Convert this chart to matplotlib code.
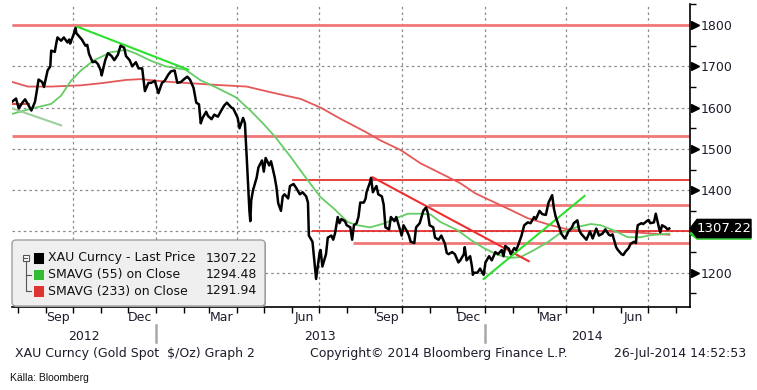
import matplotlib
matplotlib.use("Agg")
import matplotlib.pyplot as plt
import matplotlib.dates as mdates
import pandas as pd
from matplotlib.patches import FancyBboxPatch, Polygon, Rectangle
from matplotlib.transforms import blended_transform_factory

plt.rcParams['font.family'] = ['DejaVu Sans']

# --- XAU spot ---
price_dates = [
    '2012-07-26', '2012-07-30', '2012-08-02', '2012-08-06', '2012-08-09', '2012-08-13', '2012-08-16',
    '2012-08-20', '2012-08-22', '2012-08-24', '2012-08-28', '2012-08-30', '2012-09-03', '2012-09-06',
    '2012-09-07', '2012-09-11', '2012-09-13', '2012-09-14', '2012-09-18', '2012-09-21', '2012-09-25',
    '2012-09-27', '2012-09-28', '2012-10-02', '2012-10-04', '2012-10-05', '2012-10-09', '2012-10-11',
    '2012-10-15', '2012-10-17', '2012-10-19', '2012-10-23', '2012-10-26', '2012-10-29', '2012-11-01',
    '2012-11-02', '2012-11-06', '2012-11-09', '2012-11-13', '2012-11-16', '2012-11-20', '2012-11-23',
    '2012-11-27', '2012-11-29', '2012-12-03', '2012-12-06', '2012-12-10', '2012-12-13', '2012-12-17',
    '2012-12-20', '2012-12-24', '2012-12-27', '2012-12-31', '2013-01-04', '2013-01-08', '2013-01-11',
    '2013-01-15', '2013-01-18', '2013-01-22', '2013-01-25', '2013-01-29', '2013-02-01', '2013-02-05',
    '2013-02-08', '2013-02-12', '2013-02-15', '2013-02-18', '2013-02-20', '2013-02-22', '2013-02-26',
    '2013-02-28', '2013-03-04', '2013-03-07', '2013-03-11', '2013-03-14', '2013-03-18', '2013-03-21',
    '2013-03-26', '2013-03-28', '2013-04-02', '2013-04-04', '2013-04-08', '2013-04-10', '2013-04-12',
    '2013-04-15', '2013-04-16', '2013-04-17', '2013-04-19', '2013-04-23', '2013-04-25', '2013-04-29',
    '2013-05-01', '2013-05-03', '2013-05-07', '2013-05-09', '2013-05-13', '2013-05-15', '2013-05-17',
    '2013-05-20', '2013-05-22', '2013-05-24', '2013-05-28', '2013-05-30', '2013-06-03', '2013-06-06',
    '2013-06-10', '2013-06-13', '2013-06-17', '2013-06-19', '2013-06-20', '2013-06-24', '2013-06-26',
    '2013-06-27', '2013-06-28', '2013-07-02', '2013-07-03', '2013-07-05', '2013-07-09', '2013-07-11',
    '2013-07-15', '2013-07-17', '2013-07-19', '2013-07-22', '2013-07-24', '2013-07-26', '2013-07-30',
    '2013-08-01', '2013-08-05', '2013-08-07', '2013-08-09', '2013-08-12', '2013-08-14', '2013-08-16',
    '2013-08-20', '2013-08-22', '2013-08-23', '2013-08-27', '2013-08-28', '2013-08-30', '2013-09-03',
    '2013-09-05', '2013-09-09', '2013-09-11', '2013-09-13', '2013-09-17', '2013-09-19', '2013-09-23',
    '2013-09-25', '2013-09-27', '2013-10-01', '2013-10-03', '2013-10-07', '2013-10-09', '2013-10-11',
    '2013-10-15', '2013-10-17', '2013-10-21', '2013-10-23', '2013-10-25', '2013-10-28', '2013-10-30',
    '2013-11-01', '2013-11-05', '2013-11-07', '2013-11-11', '2013-11-14', '2013-11-18', '2013-11-20',
    '2013-11-22', '2013-11-26', '2013-11-29', '2013-12-03', '2013-12-05', '2013-12-09', '2013-12-10',
    '2013-12-12', '2013-12-16', '2013-12-18', '2013-12-19', '2013-12-20', '2013-12-24', '2013-12-27',
    '2013-12-31', '2014-01-02', '2014-01-06', '2014-01-09', '2014-01-13', '2014-01-16', '2014-01-20',
    '2014-01-22', '2014-01-24', '2014-01-28', '2014-01-30', '2014-02-03', '2014-02-05', '2014-02-07',
    '2014-02-11', '2014-02-14', '2014-02-18', '2014-02-21', '2014-02-25', '2014-02-27', '2014-03-03',
    '2014-03-06', '2014-03-10', '2014-03-13', '2014-03-17', '2014-03-19', '2014-03-21', '2014-03-25',
    '2014-03-27', '2014-03-31', '2014-04-02', '2014-04-04', '2014-04-08', '2014-04-10', '2014-04-14',
    '2014-04-16', '2014-04-18', '2014-04-22', '2014-04-24', '2014-04-28', '2014-05-01', '2014-05-05',
    '2014-05-08', '2014-05-12', '2014-05-15', '2014-05-19', '2014-05-21', '2014-05-23', '2014-05-27',
    '2014-05-29', '2014-06-02', '2014-06-04', '2014-06-06', '2014-06-10', '2014-06-12', '2014-06-16',
    '2014-06-18', '2014-06-19', '2014-06-20', '2014-06-24', '2014-06-26', '2014-06-30', '2014-07-02',
    '2014-07-04', '2014-07-08', '2014-07-10', '2014-07-14', '2014-07-15', '2014-07-17', '2014-07-21',
    '2014-07-23', '2014-07-25',
]
price_vals = [
    1615, 1622, 1598, 1612, 1620, 1605, 1593,
    1614, 1640, 1668, 1662, 1650, 1690, 1700,
    1738, 1735, 1760, 1770, 1762, 1770, 1758,
    1765, 1755, 1778, 1793, 1780, 1770, 1765,
    1750, 1752, 1730, 1710, 1712, 1705, 1690,
    1678, 1715, 1732, 1725, 1715, 1728, 1750,
    1745, 1725, 1715, 1700, 1710, 1695, 1695,
    1640, 1660, 1660, 1665, 1635, 1660, 1665,
    1680, 1688, 1690, 1660, 1662, 1668, 1675,
    1668, 1648, 1612, 1608, 1562, 1575, 1590,
    1580, 1572, 1583, 1578, 1590, 1605, 1612,
    1600, 1598, 1575, 1550, 1575, 1562, 1480,
    1350, 1325, 1375, 1400, 1430, 1455, 1472,
    1445, 1478, 1460, 1470, 1432, 1407, 1368,
    1350, 1385, 1390, 1380, 1410, 1415, 1405,
    1390, 1395, 1385, 1370, 1290, 1275, 1230,
    1205, 1185, 1250, 1255, 1215, 1245, 1285,
    1290, 1280, 1295, 1335, 1320, 1330, 1325,
    1315, 1310, 1280, 1315, 1320, 1335, 1370,
    1370, 1380, 1395, 1420, 1430, 1395, 1410,
    1390, 1385, 1365, 1310, 1305, 1335, 1325,
    1335, 1320, 1290, 1315, 1300, 1290, 1275,
    1272, 1310, 1320, 1335, 1350, 1358, 1345,
    1315, 1310, 1285, 1280, 1290, 1270, 1248,
    1245, 1250, 1245, 1225, 1230, 1245, 1262,
    1230, 1240, 1215, 1195, 1200, 1200, 1210,
    1195, 1225, 1240, 1230, 1250, 1245, 1255,
    1240, 1265, 1258, 1245, 1260, 1255, 1265,
    1290, 1315, 1322, 1320, 1335, 1330, 1350,
    1342, 1340, 1370, 1388, 1355, 1335, 1310,
    1295, 1283, 1290, 1300, 1310, 1320, 1327,
    1303, 1295, 1285, 1280, 1300, 1283, 1307,
    1290, 1295, 1305, 1292, 1290, 1293, 1262,
    1255, 1245, 1243, 1250, 1260, 1270, 1275,
    1272, 1300, 1315, 1320, 1318, 1325, 1328,
    1320, 1322, 1343, 1305, 1298, 1315, 1310,
    1305, 1307.22,
]

sma55_dates = [
    '2012-07-26', '2012-08-15', '2012-09-07', '2012-09-18', '2012-09-29', '2012-10-10', '2012-10-24',
    '2012-11-12', '2012-11-29', '2012-12-10', '2012-12-26', '2013-01-12', '2013-02-03', '2013-02-20',
    '2013-03-09', '2013-03-31', '2013-04-16', '2013-04-30', '2013-05-14', '2013-05-31', '2013-06-16',
    '2013-07-03', '2013-07-18', '2013-07-25', '2013-08-02', '2013-08-13', '2013-08-27', '2013-09-11',
    '2013-09-27', '2013-10-08', '2013-10-22', '2013-11-02', '2013-11-13', '2013-12-02', '2013-12-17',
    '2013-12-31', '2014-01-16', '2014-01-30', '2014-02-10', '2014-02-25', '2014-03-12', '2014-03-26',
    '2014-04-14', '2014-04-29', '2014-05-10', '2014-05-24', '2014-06-09', '2014-06-23', '2014-07-04',
    '2014-07-25',
]
sma55_vals = [
    1585, 1597, 1609, 1629, 1665, 1690, 1714,
    1734, 1740, 1731, 1714, 1700, 1692, 1666,
    1649, 1625, 1593, 1562, 1528, 1480, 1432,
    1383, 1355, 1340, 1323, 1315, 1310, 1319,
    1334, 1343, 1343, 1341, 1323, 1303, 1279,
    1260, 1243, 1236, 1238, 1255, 1274, 1296,
    1311, 1318, 1315, 1303, 1286, 1286, 1291,
    1294.48,
]

sma233_dates = [
    '2012-07-26', '2012-08-12', '2012-09-07', '2012-10-10', '2012-11-01', '2012-11-29', '2012-12-15',
    '2013-01-12', '2013-02-09', '2013-03-09', '2013-04-12', '2013-05-09', '2013-06-11', '2013-07-03',
    '2013-07-25', '2013-08-22', '2013-09-07', '2013-09-30', '2013-10-22', '2013-11-13', '2013-12-05',
    '2013-12-22', '2014-01-30', '2014-02-18', '2014-03-16', '2014-04-03', '2014-04-25', '2014-05-29',
    '2014-06-15', '2014-07-25',
]
sma233_vals = [
    1662, 1651, 1651, 1654, 1659, 1667, 1669,
    1663, 1659, 1655, 1651, 1637, 1621, 1600,
    1573, 1541, 1521, 1497, 1465, 1441, 1417,
    1392, 1352, 1332, 1315, 1305, 1301, 1299,
    1298, 1291.94,
]

# horizontal support / resistance levels drawn on the chart
level_vals = [1800, 1532, 1424, 1364, 1302, 1271, 1609]
level_start = ['2012-07-26', '2012-07-26', '2013-06-01', '2013-10-30', '2013-06-23', '2013-08-08', '2012-07-26']
level_end = ['2014-08-17', '2014-08-17', '2014-08-17', '2014-08-17', '2014-08-17', '2014-08-17', '2012-08-15']
level_dark = [False, False, True, False, True, False, True]

# trend lines
trend_d0 = ['2012-10-06', '2012-07-26', '2013-08-30', '2013-12-31']
trend_v0 = [1796, 1598, 1431, 1185]
trend_d1 = ['2013-02-06', '2012-09-18', '2014-02-19', '2014-04-22']
trend_v1 = [1692, 1557, 1228, 1386]
trend_col = ['#2ee02e', '#9ccf9c', '#ee3030', '#2ee02e']

legend_names = ['XAU Curncy - Last Price', 'SMAVG (55) on Close', 'SMAVG (233) on Close']
legend_vals = ['1307.22', '1294.48', '1291.94']
legend_cols = ['#000000', '#33bb33', '#dd3333']

y_ticks = [1200, 1300, 1400, 1500, 1600, 1700, 1800]

W, H = 757, 390
fig = plt.figure(figsize=(W / 100, H / 100), dpi=100)
ax = fig.add_axes([12 / W, (H - 307) / H, 678 / W, 303 / H])

pd_price = pd.to_datetime(price_dates)
xmin, xmax = pd.Timestamp('2012-07-25 12:00'), pd.Timestamp('2014-08-17')
ax.set_xlim(xmin, xmax)
ax.set_ylim(1117, 1851)

# grid
for d in pd.date_range('2012-10-01', '2014-07-01', freq='QS'):
    ax.axvline(d, color='#8a8a8a', lw=0.9, ls=(0, (2, 2.5)), zorder=0.5)
for v in y_ticks:
    ax.axhline(v, color='#8a8a8a', lw=0.9, ls=(0, (2, 2.5)), zorder=0.5)

for v, s, e, dk in zip(level_vals, level_start, level_end, level_dark):
    if dk:
        ax.hlines(v, pd.Timestamp(s), pd.Timestamp(e), color='#e62020', lw=1.2, zorder=1)
    else:
        ax.hlines(v, pd.Timestamp(s), pd.Timestamp(e), color='#f07878', lw=2.0, zorder=1)

ax.plot(pd.to_datetime(sma233_dates), sma233_vals, color='#e45858', lw=1.3, zorder=2)
ax.plot(pd.to_datetime(sma55_dates), sma55_vals, color='#66cc66', lw=1.3, zorder=2)

for d0, v0, d1, v1, c in zip(trend_d0, trend_v0, trend_d1, trend_v1, trend_col):
    ax.plot([pd.Timestamp(d0), pd.Timestamp(d1)], [v0, v1], color=c, lw=1.5, zorder=3)

ax.plot(pd_price, price_vals, color='black', lw=1.8, zorder=4)

# axes styling
for sp in ('left', 'top'):
    ax.spines[sp].set_visible(False)
ax.spines['right'].set_linewidth(1.2)
ax.spines['bottom'].set_linewidth(1.2)
ax.yaxis.tick_right()
ax.set_yticks(y_ticks)
# the 1300 label sits under the last-price tag
ax.set_yticklabels(['' if v == 1300 else str(v) for v in y_ticks])
ax.set_yticks(range(1150, 1851, 100), minor=True)
ax.tick_params(axis='y', which='major', length=0, pad=8, labelsize=9, labelcolor='#1c1c2c')
ax.tick_params(axis='y', which='minor', length=4, width=1, direction='out')
ax.xaxis.set_major_locator(mdates.MonthLocator(bymonth=(3, 6, 9, 12), bymonthday=15))
ax.xaxis.set_major_formatter(mdates.DateFormatter('%b'))
ax.xaxis.set_minor_locator(mdates.MonthLocator(bymonthday=1))
ax.tick_params(axis='x', which='major', length=0, pad=3, labelsize=9, labelcolor='#1c1c2c')
ax.tick_params(axis='x', which='minor', length=4, width=1, direction='out')

yb = blended_transform_factory(ax.transAxes, ax.transData)
ax.plot([1 + 4.5 / 678] * len(y_ticks), y_ticks, ls='none', marker='>', ms=6,
        color='black', transform=yb, clip_on=False, zorder=5)

# last value tags
def tag(val, fc, half, z):
    x0, x1, x2 = 1.0, 1 + 7 / 678, 1 + 61 / 678
    poly = Polygon([(x0, val), (x1, val + half), (x2, val + half), (x2, val - half), (x1, val - half)],
                   closed=True, fc=fc, ec=fc, transform=yb, clip_on=False, zorder=z)
    ax.add_patch(poly)

tag(sma55_vals[-1], '#33cc33', 13, 10)
tag(price_vals[-1], 'black', 22, 11)
ax.text(1 + 34 / 678, price_vals[-1], '%.2f' % price_vals[-1], color='white', fontsize=9.5,
        ha='center', va='center', transform=yb, zorder=12)

# year labels under the month labels
xb = blended_transform_factory(ax.transData, ax.transAxes)
yr_edges = [xmin, pd.Timestamp('2013-01-01'), pd.Timestamp('2014-01-01'), xmax]
for i, yr in enumerate(['2012', '2013', '2014']):
    mid = yr_edges[i] + (yr_edges[i + 1] - yr_edges[i]) / 2
    ax.text(mid, -29 / 303, yr, transform=xb, ha='center', va='center', fontsize=9,
            color='#1c1c2c', clip_on=False)
for d in yr_edges[1:3]:
    ax.plot([d, d], [-18 / 303, -35 / 303], color='#a8a8a8', lw=1.8, transform=xb, clip_on=False)

# overlay in pixel coordinates for legend and footer
ov = fig.add_axes([0, 0, 1, 1])
ov.set_xlim(0, W)
ov.set_ylim(H, 0)
ov.axis('off')

ov.add_patch(FancyBboxPatch((13, 241), 253, 66, boxstyle='round,pad=0,rounding_size=4',
                            fc='#9a9a9a', ec='none'))
ov.add_patch(FancyBboxPatch((12, 240), 253, 66, boxstyle='round,pad=0,rounding_size=4',
                            fc='#efefef', ec='#a0a0a0', lw=1.0))
rows = [258, 274.5, 291]
ov.add_patch(Rectangle((22.5, 254.5), 6, 6, fc='white', ec='#555555', lw=0.8))
ov.plot([23.8, 27.2], [257.5, 257.5], color='#555555', lw=0.8)
ov.plot([25.5, 25.5, 31], [260.5, rows[2], rows[2]], color='#555555', lw=0.8)
ov.plot([25.5, 31], [rows[1], rows[1]], color='#555555', lw=0.8)
for r, nm, vl, c in zip(rows, legend_names, legend_vals, legend_cols):
    ov.add_patch(Rectangle((32.5, r - 6), 11.5, 11.5, fc=c, ec='#ffffff', lw=0.6))
    ov.text(48, r, nm, fontsize=9, va='center', ha='left', color='#111111')
    ov.text(257, r, vl, fontsize=9, va='center', ha='right', color='#111111')

ov.text(15, 353, 'XAU Curncy (Gold Spot  $/Oz) Graph 2', fontsize=9, va='center', ha='left', color='#1c1c2c')
ov.text(310, 353, 'Copyright\u00a9 2014 Bloomberg Finance L.P.', fontsize=9, va='center', ha='left', color='#1c1c2c')
ov.text(746, 353, '26-Jul-2014 14:52:53', fontsize=9, va='center', ha='right', color='#1c1c2c')
ov.text(10, 378, 'K\u00e4lla: Bloomberg', fontsize=7.5, va='center', ha='left', color='#111111',
        family='Liberation Sans')

fig.savefig('out.png', dpi=100, facecolor='white')
